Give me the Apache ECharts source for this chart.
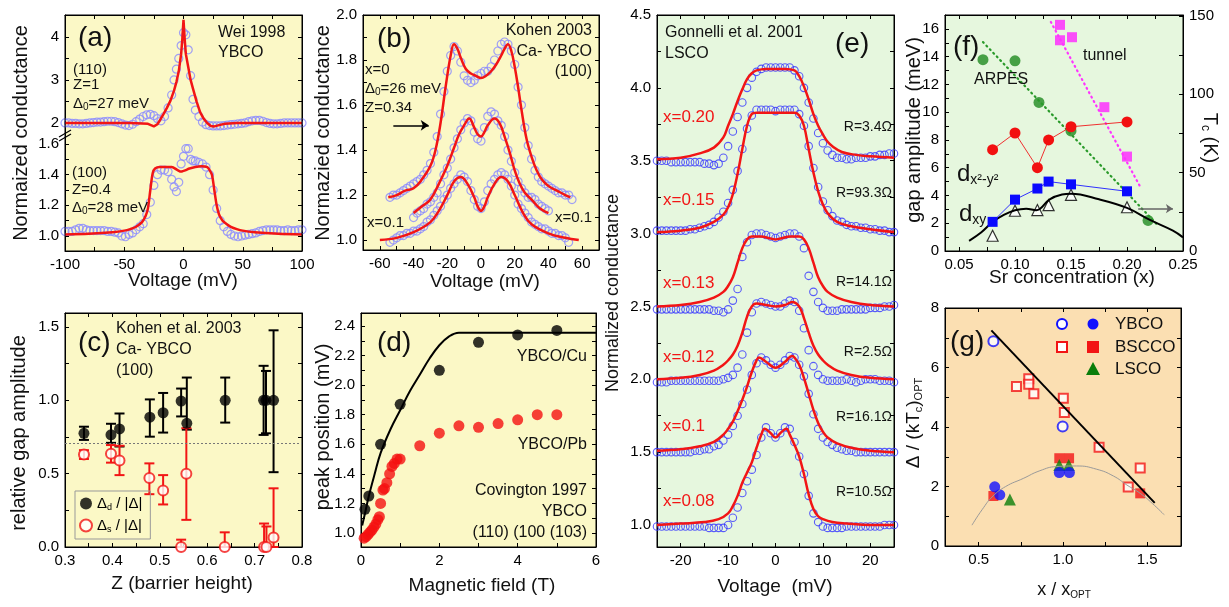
<!DOCTYPE html>
<html>
<head>
<meta charset="utf-8">
<script src="https://cdn.jsdelivr.net/npm/echarts@6.0.0/dist/echarts.min.js"></script>
</head>
<body style="margin:0;background:#fff">
<div id="container" style="width:1229px;height:607px;"></div>
<script type="text/javascript">
// ---------- data ----------
// (a) Wei 1998, YBCO
const aDataX = [-100,-97,-94,-91,-88,-85,-82,-79,-76,-73,-70,-67,-64,-61,-58,-55,-52,-49,-46,-43,-40,-37,-34,-31,-28,-25,-22,-19,-16,-13,-10,-8,-6,-4,-2,0,2,4,6,8,10,13,16,19,22,25,28,31,34,37,40,43,46,49,52,55,58,61,64,67,70,73,76,79,82,85,88,91,94,97,100];
const aUpY = [2.0,2.0,1.99,1.99,1.98,1.98,1.99,2.0,2.01,2.02,2.02,2.03,2.04,2.04,2.03,2.01,1.98,1.95,1.94,1.97,2.03,2.09,2.15,2.19,2.2,2.17,2.1,2.05,2.15,2.35,2.65,
  3.0,3.25,3.5,3.8,4.1,4.05,3.7,3.1,2.55,2.3,
  2.15,2.02,1.96,1.94,1.93,1.93,1.93,1.94,1.95,1.96,1.97,1.98,1.99,2.0,2.03,2.05,2.06,2.06,2.04,2.01,1.99,1.98,1.98,1.99,2.0,2.0,2.0,2.0,2.0,2.0];
const aLoY = [1.03,1.03,1.03,1.04,1.05,1.05,1.04,1.035,1.035,1.035,1.035,1.035,1.03,1.03,1.025,1.02,1.0,0.995,1.01,1.02,1.04,1.06,1.08,1.14,1.22,1.33,1.4,1.43,1.43,1.42,1.37,
  1.32,1.29,1.35,1.47,1.52,1.57,1.57,1.5,1.49,1.49,
  1.48,1.47,1.45,1.4,1.3,1.18,1.1,1.06,1.03,1.01,1.0,0.995,1.0,1.005,1.01,1.015,1.02,1.03,1.035,1.04,1.04,1.04,1.04,1.035,1.035,1.04,1.035,1.035,1.04,1.04];
const aFitUx = [-100,-80,-60,-45,-35,-30,-25,-22,-20,-17,-14,-11,-8,-6,-4,-2,-1,0,1,2,4,6,8,11,14,17,20,23,26,30,35,45,60,80,100];
const aFitUy = [2.0,2.0,2.0,2.0,1.99,1.98,1.92,1.97,2.06,2.2,2.35,2.52,2.75,2.95,3.2,3.6,3.95,4.4,3.95,3.6,3.3,3.0,2.8,2.5,2.25,2.1,2.0,1.93,1.92,1.95,1.98,2.0,2.0,2.0,2.0];
const aFitLx = [-100,-80,-60,-50,-45,-40,-35,-32,-30,-28,-26,-24,-20,-15,-10,-5,-2,0,2,5,10,15,20,22,24,26,28,30,33,36,40,45,50,60,80,100];
const aFitLy = [1.01,1.015,1.025,1.035,1.045,1.06,1.09,1.13,1.18,1.3,1.41,1.44,1.45,1.45,1.45,1.43,1.42,1.425,1.43,1.44,1.45,1.455,1.45,1.43,1.4,1.3,1.2,1.14,1.1,1.08,1.06,1.045,1.035,1.025,1.015,1.01];

// (b) Kohen 2003, Ca-YBCO
const bTopX = [-54,-52,-50,-48,-46,-44,-42,-40,-38,-36,-34,-32,-30,-28,-26,-24,-22,-20,-18,-16,-14,-12,-10,-8,-6,-4,-2,0,2,4,6,8,10,12,14,16,18,20,22,24,26,28,30,32,34,36,38,40,42,44,46,48,50,52,54];
const bTopY = [1.19,1.20,1.20,1.21,1.22,1.23,1.24,1.25,1.26,1.27,1.29,1.31,1.34,1.39,1.46,1.56,1.66,1.75,1.82,1.86,1.84,1.79,1.73,1.71,1.70,1.71,1.73,1.74,1.75,1.75,1.77,1.80,1.84,1.87,1.88,1.87,1.84,1.78,1.68,1.60,1.50,1.42,1.36,1.31,1.28,1.26,1.25,1.24,1.23,1.22,1.21,1.21,1.20,1.20,1.18];
const bMidX = [-40,-38,-36,-34,-32,-30,-28,-26,-24,-22,-20,-18,-16,-14,-12,-10,-8,-6,-4,-2,0,2,4,6,8,10,12,14,16,18,20,22,24,26,28,30,32,34,36,38,40];
const bMidY = [1.10,1.12,1.13,1.14,1.16,1.17,1.19,1.21,1.25,1.29,1.32,1.36,1.41,1.45,1.49,1.52,1.54,1.53,1.48,1.45,1.44,1.50,1.55,1.57,1.56,1.53,1.51,1.46,1.40,1.35,1.30,1.26,1.23,1.21,1.19,1.19,1.18,1.16,1.15,1.14,1.13];
const bBotX = [-54,-52,-50,-48,-46,-44,-42,-40,-38,-36,-34,-32,-30,-28,-26,-24,-22,-20,-18,-16,-14,-12,-10,-8,-6,-4,-2,0,2,4,6,8,10,12,14,16,18,20,22,24,26,28,30,32,34,36,38,40,42,44,46,48,50,52];
const bBotY = [0.99,1.00,1.01,1.02,1.02,1.03,1.03,1.04,1.04,1.05,1.06,1.08,1.09,1.11,1.13,1.15,1.18,1.20,1.23,1.25,1.27,1.29,1.28,1.26,1.22,1.18,1.15,1.14,1.17,1.22,1.25,1.27,1.29,1.30,1.29,1.27,1.24,1.20,1.16,1.14,1.12,1.10,1.08,1.07,1.06,1.05,1.05,1.04,1.03,1.03,1.02,1.02,1.01,0.99];
const bTopFitX = [-55,-50,-45,-40,-35,-30,-27,-24,-21,-18,-16,-14,-12,-9,-6,-3,0,3,6,9,12,14,16,18,20,22,24,27,30,33,36,40,45,50,53];
const bTopFit = [1.19,1.20,1.22,1.23,1.27,1.33,1.40,1.52,1.68,1.82,1.87,1.85,1.81,1.76,1.74,1.73,1.72,1.73,1.75,1.78,1.82,1.85,1.87,1.84,1.77,1.68,1.58,1.45,1.37,1.31,1.27,1.24,1.22,1.20,1.19];
const bMidFitX = [-40,-35,-30,-25,-20,-16,-13,-10,-7,-4,-2,0,2,4,8,11,14,17,20,23,26,30,35,40];
const bMidFit = [1.12,1.15,1.18,1.25,1.33,1.41,1.47,1.51,1.54,1.50,1.47,1.46,1.48,1.51,1.54,1.52,1.46,1.39,1.31,1.25,1.21,1.18,1.14,1.12];
const bBotFitX = [-60,-50,-40,-30,-25,-20,-16,-12,-8,-4,-2,0,2,4,8,12,16,20,25,30,40,50,58];
const bBotFit = [1.00,1.01,1.035,1.08,1.13,1.20,1.26,1.28,1.25,1.19,1.15,1.13,1.15,1.19,1.25,1.28,1.26,1.20,1.12,1.07,1.03,1.01,1.00];

// (c) Kohen et al. 2003, relative gap amplitude vs Z
const cZd = [0.34,0.397,0.415,0.479,0.507,0.545,0.557,0.638,0.719,0.724,0.74];
const cD = [0.775,0.765,0.805,0.885,0.915,0.995,0.843,1.0,1.0,1.0,1.0];
const cDlo = [0.73,0.71,0.685,0.752,0.78,0.89,0.8,0.848,0.764,0.775,0.51];
const cDhi = [0.82,0.84,0.91,1.006,1.05,1.08,1.155,1.155,1.235,1.2,1.477];
const cZs = [0.34,0.397,0.415,0.478,0.507,0.545,0.556,0.637,0.72,0.725,0.74];
const cS = [0.63,0.635,0.59,0.47,0.385,0.0,0.5,0.0,0.0,0.0,0.065];
const cSlo = [0.6,0.575,0.49,0.36,0.29,0.0,0.185,0.0,0.0,0.0,0.0];
const cShi = [0.66,0.695,0.69,0.57,0.49,0.05,0.81,0.1,0.16,0.14,0.4];

// (d) Covington 1997, peak position vs field
const dCuB = [0.1,0.2,0.5,1,2,3,4,5];
const dCu = [1.16,1.25,1.6,1.87,2.1,2.29,2.34,2.37];
const dFitB = [0.03,0.1,0.2,0.35,0.5,0.75,1.0,1.25,1.5,1.75,2.0,2.25,2.5,3,4,5,6];
const dFit = [1.05,1.13,1.25,1.4,1.54,1.7,1.83,1.96,2.07,2.18,2.27,2.33,2.355,2.355,2.355,2.355,2.355];
const dPbB = [0.08,0.13,0.18,0.23,0.28,0.33,0.38,0.43,0.47,0.5,0.56,0.6,0.66,0.73,0.79,0.85,0.92,1.0,1.5,2.0,2.5,3.0,3.5,4.0,4.5,5.0];
const dPb = [0.965,0.975,0.99,1.005,1.02,1.04,1.06,1.09,1.11,1.2,1.29,1.3,1.34,1.4,1.45,1.47,1.5,1.5,1.59,1.675,1.725,1.715,1.74,1.765,1.8,1.8];

// (e) Gonnelli et al. 2001, LSCO
const eX = [-25,-24,-23,-22,-21,-20,-19,-18,-17,-16,-15,-14,-13,-12,-11,-10,-9,-8,-7,-6,-5,-4,-3,-2,-1,0,1,2,3,4,5,6,7,8,9,10,11,12,13,14,15,16,17,18,19,20,21,22,23,24,25];
const e020 = [3.50,3.50,3.50,3.49,3.49,3.49,3.49,3.49,3.49,3.49,3.48,3.48,3.47,3.48,3.52,3.60,3.70,3.80,3.90,4.00,4.07,4.11,4.13,4.14,4.14,4.14,4.14,4.14,4.14,4.12,4.08,4.00,3.90,3.79,3.69,3.62,3.57,3.54,3.52,3.52,3.51,3.51,3.52,3.52,3.52,3.53,3.53,3.54,3.54,3.55,3.55];
const e015 = [3.02,3.02,3.02,3.02,3.02,3.02,3.02,3.03,3.03,3.04,3.05,3.06,3.08,3.11,3.15,3.21,3.30,3.43,3.58,3.72,3.81,3.85,3.85,3.85,3.85,3.84,3.85,3.85,3.85,3.85,3.82,3.74,3.60,3.45,3.32,3.22,3.16,3.12,3.09,3.08,3.06,3.05,3.05,3.04,3.04,3.03,3.03,3.02,3.02,3.01,3.01];
const e013 = [2.48,2.48,2.48,2.48,2.48,2.48,2.48,2.48,2.48,2.48,2.48,2.48,2.47,2.47,2.46,2.48,2.54,2.62,2.84,2.94,2.99,3.00,3.00,2.99,2.98,2.97,2.98,2.99,3.00,3.00,2.98,2.90,2.71,2.60,2.53,2.49,2.47,2.47,2.47,2.48,2.48,2.48,2.48,2.48,2.48,2.49,2.49,2.49,2.50,2.50,2.51];
const e012 = [1.98,1.98,1.98,1.99,1.99,1.99,1.99,1.99,1.99,1.99,1.99,1.99,1.99,1.99,2.00,2.01,2.03,2.08,2.17,2.32,2.46,2.52,2.53,2.52,2.51,2.50,2.50,2.52,2.54,2.53,2.47,2.35,2.20,2.09,2.03,2.00,1.99,1.99,1.99,1.99,2.00,1.99,1.98,1.99,2.00,2.00,2.00,1.99,1.99,1.99,1.98];
const e010 = [1.50,1.50,1.50,1.50,1.50,1.50,1.50,1.50,1.51,1.51,1.52,1.52,1.54,1.55,1.58,1.62,1.68,1.75,1.83,1.93,2.03,2.11,2.15,2.13,2.10,2.08,2.10,2.13,2.16,2.15,2.10,2.02,1.90,1.76,1.66,1.60,1.57,1.55,1.53,1.52,1.51,1.51,1.50,1.50,1.50,1.50,1.50,1.50,1.50,1.50,1.50];
const e008 = [0.99,0.99,0.99,0.99,0.99,0.99,0.99,0.99,0.99,0.99,0.99,0.98,0.98,0.98,0.98,1.00,1.05,1.12,1.22,1.30,1.38,1.48,1.60,1.67,1.63,1.60,1.63,1.67,1.66,1.57,1.47,1.35,1.20,1.08,1.02,0.99,0.98,0.98,0.98,0.98,0.99,0.99,0.99,0.99,0.99,0.99,0.99,0.99,1.00,1.00,1.00];
const f020x = [-25,-20,-16,-13,-11,-10,-9,-8,-7,-6,-5,-4,-2,0,2,4,5,6,7,8,9,10,11,12,14,17,20,25];
const f020 = [3.51,3.52,3.55,3.59,3.66,3.74,3.82,3.91,3.99,4.06,4.10,4.12,4.13,4.13,4.13,4.12,4.08,4.01,3.92,3.82,3.74,3.68,3.63,3.60,3.56,3.54,3.53,3.52];
const f015x = [-25,-20,-16,-13,-11,-10,-9,-8,-7,-6,-5,-4,-2,0,2,4,5,6,7,8,9,10,11,13,16,20,25];
const f015 = [3.01,3.02,3.04,3.08,3.13,3.18,3.27,3.41,3.58,3.74,3.82,3.83,3.83,3.83,3.83,3.83,3.81,3.74,3.58,3.42,3.29,3.20,3.14,3.08,3.05,3.03,3.01];
const f013x = [-25,-20,-16,-13,-11,-10,-9,-8,-7,-6,-5,-3,-1.5,0,1.5,3,5,6,7,8,9,10,11,13,16,20,25];
const f013 = [2.50,2.51,2.53,2.56,2.60,2.64,2.70,2.80,2.90,2.96,2.98,2.98,2.97,2.96,2.97,2.98,2.98,2.96,2.90,2.80,2.70,2.64,2.60,2.56,2.53,2.51,2.50];
const f012x = [-25,-20,-16,-13,-11,-10,-9,-8,-7,-6,-5,-4,-2,0,2,3.5,5,6,7,8,9,10,11,13,16,20,25];
const f012 = [2.00,2.01,2.03,2.06,2.10,2.13,2.17,2.23,2.32,2.43,2.50,2.52,2.51,2.50,2.51,2.53,2.50,2.42,2.32,2.23,2.17,2.13,2.10,2.06,2.03,2.01,2.00];
const f010x = [-25,-20,-16,-13,-11,-10,-9,-8,-7,-6,-5,-4,-3.5,-2,0,2,3.5,4,5,6,7,8,9,10,11,13,16,20,25];
const f010 = [1.51,1.52,1.54,1.57,1.62,1.66,1.71,1.78,1.86,1.95,2.05,2.13,2.15,2.12,2.08,2.12,2.16,2.15,2.10,2.01,1.90,1.79,1.70,1.64,1.60,1.56,1.53,1.51,1.50];
const f008x = [-25,-20,-15,-12,-10,-9,-8,-7,-6,-5,-4,-3,-2.3,-1,0,1,2.3,3,4,5,6,7,8,9,10,12,15,20,25];
const f008 = [1.00,1.01,1.02,1.04,1.08,1.13,1.20,1.29,1.36,1.43,1.53,1.62,1.66,1.63,1.60,1.63,1.66,1.62,1.55,1.47,1.35,1.21,1.11,1.06,1.04,1.02,1.01,1.00,1.00];
const eLabels = ['x=0.20','x=0.15','x=0.13','x=0.12','x=0.1','x=0.08'];
const eR = ['R=3.4Ω','R=93.3Ω','R=14.1Ω','R=2.5Ω','R=16.1Ω','R=10.5Ω'];

// (f) gap amplitude vs Sr concentration
const fX = [0.08,0.10,0.12,0.13,0.15,0.20];
const fRed = [7.3,8.5,6.0,8.0,8.95,9.3];
const fBlue = [2.1,3.7,4.5,5.0,4.8,4.3];
const fTri = [1.1,2.9,2.95,3.3,4.05,3.15];
const fArpesX = [0.0714,0.1,0.1214,0.15,0.2188];
const fArpes = [13.78,13.7,10.7,8.65,2.2];
const fArpesFitX = [0.0714,0.227];
const fArpesFit = [15.05,1.9];
const fTunX = [0.1402,0.1402,0.1509,0.1798,0.2];
const fTun = [16.29,15.18,15.4,10.36,6.8];
const fTunFitX = [0.132,0.212];
const fTunFit = [16.5,4.6];
const fTcX = [0.059,0.07,0.08,0.09,0.1,0.11,0.119,0.131,0.142,0.15,0.175,0.2,0.22,0.241,0.25];
const fTc = [6.5,12,18.5,23,26,27,26,33,36,36.5,33,27.5,20,13,8.7];

// (g) Δ/(kTc)opt vs x/xopt
const gYoX = [0.587,0.998];            const gYo = [6.88,4.02];
const gYfX = [0.595,0.625,0.978,1.038]; const gYf = [1.99,1.72,2.47,2.47];
const gBoX = [0.724,0.797,0.797,0.827,1.002,1.008,1.214,1.387,1.458];
const gBo = [5.36,5.62,5.44,5.12,4.97,4.49,3.32,1.98,2.62];
const gBfX = [0.587,0.978,1.036,1.458]; const gBf = [1.68,2.95,2.95,1.77];
const gLfX = [0.685,0.978,1.034];       const gLf = [1.56,2.72,2.72];
const gLineX = [0.575,1.544];           const gLine = [7.25,1.45];
const gParX = [0.46,0.52,0.585,0.66,0.764,0.863,0.962,1.08,1.2,1.3,1.379,1.458,1.53,1.6];
const gPar = [0.7,1.22,1.68,2.0,2.27,2.53,2.67,2.69,2.58,2.35,2.05,1.77,1.43,1.05];

// tick values (labels, minor)
const tA_x = [-100,-50,0,50,100], tA_xm = [-75,-25,25,75];
const tA_yu = [2,3,4], tA_yum = [2.5,3.5];
const tA_yl = [1.0,1.2,1.4,1.6], tA_ylm = [1.1,1.3,1.5];
const tB_x = [-60,-40,-20,0,20,40,60], tB_xm = [-50,-30,-10,10,30,50];
const tB_y = [1.0,1.2,1.4,1.6,1.8,2.0], tB_ym = [1.1,1.3,1.5,1.7,1.9];
const tC_x = [0.3,0.4,0.5,0.6,0.7,0.8], tC_xm = [0.35,0.45,0.55,0.65,0.75];
const tC_y = [0,0.5,1.0,1.5], tC_ym = [0.25,0.75,1.25];
const tD_x = [0,2,4,6], tD_xm = [1,3,5];
const tD_y = [1.0,1.2,1.4,1.6,1.8,2.0,2.2,2.4], tD_ym = [1.1,1.3,1.5,1.7,1.9,2.1,2.3];
const tE_x = [-20,-10,0,10,20], tE_xm = [-15,-5,5,15];
const tE_y = [1.0,1.5,2.0,2.5,3.0,3.5,4.0,4.5], tE_ym = [1.25,1.75,2.25,2.75,3.25,3.75,4.25];
const tF_x = [0.05,0.10,0.15,0.20,0.25], tF_xm = [0.075,0.125,0.175,0.225];
const tF_y = [0,2,4,6,8,10,12,14,16], tF_ym = [1,3,5,7,9,11,13,15];
const tF_r = [0,50,100,150], tF_rm = [25,75,125];
const tG_x = [0.5,1.0,1.5], tG_xm = [0.75,1.25];
const tG_y = [0,2,4,6,8], tG_ym = [1,3,5,7];

// ---------- chart ----------
const FONT = '"Liberation Sans", Arial, sans-serif';
const YEL = '#FBF8C6', GRN = '#E6F7DE', ORG = '#FBDFB2';
const RED = '#F21515', BLUE_C = '#8a8aff', BLUE_E = '#3535ff';

const dom = document.getElementById('container');
const myChart = echarts.init(dom);

function zip(xs, ys) { return xs.map((x, i) => [x, ys[i]]); }

function grid(left, top, width, height, bg, border) {
    return {left: left, top: top, width: width, height: height, show: true, backgroundColor: bg,
        borderColor: '#000', borderWidth: border === false ? 0 : 1, containLabel: false, outerBoundsMode: 'none'};
}

function axis(gi, min, max, labels, minor, digits, extra) {
    const a = {
        type: 'value', gridIndex: gi, min: min, max: max, scale: false,
        axisLine: {show: true, onZero: false, lineStyle: {color: '#000', width: 1}},
        axisTick: {show: true, inside: true, length: 4, customValues: labels.concat(minor), lineStyle: {color: '#000'}},
        axisLabel: {show: true, customValues: labels, color: '#000', fontSize: 15, fontFamily: FONT, margin: 6,
            formatter: function (v) { return Number(v).toFixed(digits); }},
        splitLine: {show: false}
    };
    return Object.assign(a, extra || {});
}
// tick-only axis on the opposite edge of a frame
function mirror(gi, min, max, labels, minor, pos) {
    return {
        type: 'value', gridIndex: gi, min: min, max: max, position: pos,
        axisLine: {show: true, onZero: false, lineStyle: {color: '#000', width: 1}},
        axisTick: {show: true, inside: true, length: 4, customValues: labels.concat(minor), lineStyle: {color: '#000'}},
        axisLabel: {show: false}, splitLine: {show: false}
    };
}

function hidden(gi, min, max) {
    return {type: 'value', gridIndex: gi, min: min, max: max, show: false, splitLine: {show: false}};
}

function sc(xi, yi, xs, ys, size, item, sym) {
    return {type: 'scatter', xAxisIndex: xi, yAxisIndex: yi, data: zip(xs, ys), symbol: sym || 'circle',
        symbolSize: size, itemStyle: item, silent: true};
}
function ln(xi, yi, xs, ys, color, width, smooth, extra) {
    return Object.assign({type: 'line', xAxisIndex: xi, yAxisIndex: yi, data: zip(xs, ys), showSymbol: false,
        symbol: 'none', smooth: smooth, lineStyle: {color: color, width: width}, itemStyle: {color: color}, silent: true}, extra || {});
}
const openBlueA = {color: 'rgba(255,255,255,0)', borderColor: BLUE_C, borderWidth: 1.2};
const openBlueE = {color: 'rgba(255,255,255,0)', borderColor: BLUE_E, borderWidth: 1.1};

function errRender(params, api) {
    const x = api.value(0);
    const top = api.coord([x, api.value(3)]);
    const bot = api.coord([x, api.value(2)]);
    const c = api.visual('color');
    const w = 5;
    const st = {stroke: c, lineWidth: 2};
    return {type: 'group', children: [
        {type: 'line', shape: {x1: top[0], y1: top[1], x2: bot[0], y2: bot[1]}, style: st},
        {type: 'line', shape: {x1: top[0] - w, y1: top[1], x2: top[0] + w, y2: top[1]}, style: st},
        {type: 'line', shape: {x1: bot[0] - w, y1: bot[1], x2: bot[0] + w, y2: bot[1]}, style: st}
    ]};
}
function errSeries(xi, yi, xs, ys, lo, hi, color) {
    return {type: 'custom', xAxisIndex: xi, yAxisIndex: yi, renderItem: errRender, silent: true,
        itemStyle: {color: color}, encode: {x: 0, y: [1, 2, 3]},
        data: xs.map((x, i) => [x, ys[i], lo[i], hi[i]])};
}

// text annotations
const texts = [];
function rich(main, sub, color) {
    return {
        m: {fontSize: main, fontFamily: FONT, fill: color, color: color, lineHeight: main + 2},
        s: {fontSize: sub, fontFamily: FONT, fill: color, color: color, lineHeight: sub, verticalAlign: 'bottom'}
    };
}
function T(x, y, s, size, o) {
    o = o || {};
    const color = o.color || '#111';
    texts.push({
        type: 'text', x: x, y: y, rotation: o.rot || 0, z: 50, silent: true,
        style: {text: s, fill: color, font: size + 'px ' + FONT, align: o.align || 'left',
            verticalAlign: 'middle', rich: o.rich}
    });
}
const R90 = Math.PI / 2;

// panel letters
T(78, 38, '(a)', 28); T(377, 39, '(b)', 28); T(78, 343, '(c)', 28); T(377, 343, '(d)', 28);
T(835, 44, '(e)', 28); T(953, 47, '(f)', 28); T(950, 342, '(g)', 28);
// (a)
T(218, 33, 'Wei 1998', 16); T(218, 53, 'YBCO', 16);
T(73, 70, '(110)', 15); T(73, 85, 'Z=1', 15);
T(73, 104, '{m|Δ}{s|0}{m|=27 meV}', 15, {rich: rich(15, 10, '#111')});
T(72, 173, '(100)', 15); T(72, 190, 'Z=0.4', 15);
T(72, 208, '{m|Δ}{s|0}{m|=28 meV}', 15, {rich: rich(15, 10, '#111')});
// (b)
T(592, 31, 'Kohen 2003', 16, {align: 'right'}); T(592, 52, 'Ca- YBCO', 16, {align: 'right'});
T(592, 72, '(100)', 16, {align: 'right'});
T(365, 70, 'x=0', 15); T(365, 89, '{m|Δ}{s|0}{m|=26 meV}', 15, {rich: rich(15, 10, '#111')});
T(365, 108, 'Z=0.34', 15);
T(555, 218, 'x=0.1', 15); T(367, 223, 'x=0.1', 15);
// (c)
T(116, 329, 'Kohen et al. 2003', 16); T(116, 350, 'Ca- YBCO', 16); T(116, 371, '(100)', 16);
// (d)
T(587, 357, 'YBCO/Cu', 16, {align: 'right'}); T(587, 445, 'YBCO/Pb', 16, {align: 'right'});
T(587, 491, 'Covington 1997', 16, {align: 'right'}); T(587, 512, 'YBCO', 16, {align: 'right'});
T(587, 533, '(110) (100 (103)', 16, {align: 'right'});
// (e)
T(665, 33, 'Gonnelli et al. 2001', 16); T(665, 54, 'LSCO', 16);
const eLabY = [117, 200, 283, 357, 426, 501];
const eRY = [127, 193, 282, 352, 417, 492];
eLabels.forEach((s, i) => T(663, eLabY[i], s, 17, {color: RED}));
eR.forEach((s, i) => T(892, eRY[i], s, 14, {align: 'right'}));
// (f)
T(1083, 56, 'tunnel', 16); T(974, 80, 'ARPES', 16);
T(957, 174, '{m|d}{s|x²-y²}', 24, {rich: rich(24, 14, '#111')});
T(959, 214, '{m|d}{s|xy}', 24, {rich: rich(24, 14, '#111')});
// (g) legend texts
T(1115, 324, 'YBCO', 17); T(1115, 347, 'BSCCO', 17); T(1115, 369, 'LSCO', 17);
// axis titles
T(183, 281, 'Voltage (mV)', 19, {align: 'center'});
T(485, 282, 'Voltage (mV)', 19, {align: 'center'});
T(182, 584, 'Z (barrier height)', 19, {align: 'center'});
T(482, 586, 'Magnetic field (T)', 19, {align: 'center'});
T(775, 587, 'Voltage  (mV)', 19, {align: 'center'});
T(1072, 278, 'Sr concentration (x)', 19, {align: 'center'});
T(1064, 590, '{m|x / x}{s|OPT}', 18, {align: 'center', rich: rich(18, 10, '#111')});
T(21, 133, 'Normaized conductance', 20, {align: 'center', rot: R90});
T(323, 133, 'Normazied conductance', 20, {align: 'center', rot: R90});
T(19, 433, 'relative gap amplitude', 20, {align: 'center', rot: R90});
T(323, 427, 'peak position (mV)', 20, {align: 'center', rot: R90});
T(613, 293, 'Normalized conductance', 18, {align: 'center', rot: R90});
T(914, 130, 'gap amplitude (meV)', 20, {align: 'center', rot: R90});
T(1210, 138, '{m|T}{s|c}{m| (K)}', 20, {align: 'center', rot: -R90, rich: rich(20, 12, '#111')});
T(914, 423, '{m|Δ / (kT}{s|c}{m|)}{s|OPT}', 19, {align: 'center', rot: R90, rich: rich(19, 11, '#111')});

// frame of broken panel (a) and the break marks
const shapes = [
    {type: 'rect', shape: {x: 65, y: 15, width: 237, height: 236}, style: {fill: 'none', stroke: '#000', lineWidth: 1}, z: 40},
    {type: 'line', shape: {x1: 59, y1: 137, x2: 71, y2: 130}, style: {stroke: '#000', lineWidth: 1.2}, z: 41},
    {type: 'line', shape: {x1: 59, y1: 141, x2: 71, y2: 134}, style: {stroke: '#000', lineWidth: 1.2}, z: 41},
    // (g) legend icons
    {type: 'circle', shape: {cx: 1062, cy: 324, r: 5}, style: {fill: '#fff', stroke: '#1010ff', lineWidth: 2}, z: 45},
    {type: 'circle', shape: {cx: 1093, cy: 324, r: 5.5}, style: {fill: '#1010ff'}, z: 45},
    {type: 'rect', shape: {x: 1057, y: 342, width: 10, height: 10}, style: {fill: '#fff', stroke: RED, lineWidth: 2}, z: 45},
    {type: 'rect', shape: {x: 1087, y: 341, width: 12, height: 12}, style: {fill: RED}, z: 45},
    {type: 'polygon', shape: {points: [[1093, 362], [1100, 375], [1086, 375]]}, style: {fill: '#0a7d0a'}, z: 45}
];

const option = {
    animation: false,
    backgroundColor: '#fff',
    textStyle: {fontFamily: FONT},
    grid: [
        grid(65, 15, 237, 120, YEL, false),   // 0 a upper
        grid(65, 135, 237, 116, YEL, false),  // 1 a lower
        grid(363, 15, 236, 235, YEL),         // 2 b
        grid(65, 313, 237, 234, YEL),         // 3 c
        grid(361, 313, 235, 234, YEL),        // 4 d
        grid(657, 15, 237, 532, GRN),         // 5 e
        grid(945, 15, 238, 236, GRN),         // 6 f
        grid(945, 308, 236, 238, ORG)         // 7 g
    ],
    xAxis: [
        hidden(0, -100, 100),
        axis(1, -100, 100, tA_x, tA_xm, 0),
        axis(2, -70, 70, tB_x, tB_xm, 0),
        axis(3, 0.3, 0.8, tC_x, tC_xm, 1),
        axis(4, 0, 6, tD_x, tD_xm, 0),
        axis(5, -25, 25, tE_x, tE_xm, 0),
        axis(6, 0.0375, 0.25, tF_x, tF_xm, 2),
        axis(7, 0.3, 1.7, tG_x, tG_xm, 1),
        // top edges
        mirror(0, -100, 100, tA_x, tA_xm, 'top'),
        mirror(2, -70, 70, tB_x, tB_xm, 'top'),
        mirror(3, 0.3, 0.8, tC_x, tC_xm, 'top'),
        mirror(4, 0, 6, tD_x, tD_xm, 'top'),
        mirror(5, -25, 25, tE_x, tE_xm, 'top'),
        mirror(6, 0.0375, 0.25, tF_x, tF_xm, 'top'),
        mirror(7, 0.3, 1.7, tG_x, tG_xm, 'top')
    ],
    yAxis: [
        axis(0, 1.72, 4.51, tA_yu, tA_yum, 0),
        axis(1, 0.902, 1.659, tA_yl, tA_ylm, 1),
        axis(2, 0.956, 2.0, tB_y, tB_ym, 1),
        axis(3, 0, 1.595, tC_y, tC_ym, 1),
        axis(4, 0.905, 2.488, tD_y, tD_ym, 1),
        axis(5, 0.849, 4.5, tE_y, tE_ym, 1),
        axis(6, 0, 17, tF_y, tF_ym, 0),
        axis(7, 0, 8, tG_y, tG_ym, 0),
        axis(6, 0, 150.6, tF_r, tF_rm, 0, {position: 'right'}),
        // right edges
        mirror(0, 1.72, 4.51, tA_yu, tA_yum, 'right'),
        mirror(1, 0.902, 1.659, tA_yl, tA_ylm, 'right'),
        mirror(2, 0.956, 2.0, tB_y, tB_ym, 'right'),
        mirror(3, 0, 1.595, tC_y, tC_ym, 'right'),
        mirror(4, 0.905, 2.488, tD_y, tD_ym, 'right'),
        mirror(5, 0.849, 4.5, tE_y, tE_ym, 'right'),
        mirror(7, 0, 8, tG_y, tG_ym, 'right')
    ],
    legend: [{
        data: ['dd', 'ds'], left: 75, top: 491, orient: 'vertical', itemWidth: 12, itemHeight: 12, itemGap: 6,
        padding: [5, 8, 5, 4], borderColor: '#999', borderWidth: 1, selectedMode: false,
        formatter: function (n) { return n === 'dd' ? '{m|Δ}{s|d}{m| / |Δ|}' : '{m|Δ}{s|s}{m| / |Δ|}'; },
        textStyle: {color: '#000', rich: rich(15, 9, '#000')}
    }],
    series: [
        // (a)
        sc(0, 0, aDataX, aUpY, 8, openBlueA),
        ln(0, 0, aFitUx, aFitUy, RED, 2.5, false),
        sc(1, 1, aDataX, aLoY, 8, openBlueA),
        ln(1, 1, aFitLx, aFitLy, RED, 2.5, 0.3),
        // (b)
        sc(2, 2, bTopX, bTopY, 8, openBlueA),
        sc(2, 2, bMidX, bMidY, 8, openBlueA),
        sc(2, 2, bBotX, bBotY, 8, openBlueA),
        ln(2, 2, bTopFitX, bTopFit, RED, 2.5, 0.4, {
            markLine: {silent: true, symbol: ['none', 'arrow'], symbolSize: 8, label: {show: false},
                lineStyle: {color: '#000', width: 1.5, type: 'solid'},
                data: [[{coord: [-52, 1.51]}, {coord: [-31, 1.51]}]]}
        }),
        ln(2, 2, bMidFitX, bMidFit, RED, 2.5, 0.4),
        ln(2, 2, bBotFitX, bBotFit, RED, 2.5, 0.4),
        // (c)
        errSeries(3, 3, cZd, cD, cDlo, cDhi, '#000'),
        errSeries(3, 3, cZs, cS, cSlo, cShi, RED),
        Object.assign(sc(3, 3, cZd, cD, 11, {color: '#000'}), {name: 'dd',
            markLine: {silent: true, symbol: 'none', label: {show: false},
                lineStyle: {color: '#777', width: 1, type: [2, 2]}, data: [{yAxis: 0.707}]}}),
        Object.assign(sc(3, 3, cZs, cS, 10, {color: '#fff', borderColor: RED, borderWidth: 2}), {name: 'ds'}),
        // (d)
        ln(4, 4, dFitB, dFit, '#000', 2, 0.4),
        sc(4, 4, dCuB, dCu, 11, {color: '#000'}),
        sc(4, 4, dPbB, dPb, 11, {color: '#f51010'}),
        // (e)
        sc(5, 5, eX, e020, 7.5, openBlueE), ln(5, 5, f020x, f020, RED, 2.5, 0.4),
        sc(5, 5, eX, e015, 7.5, openBlueE), ln(5, 5, f015x, f015, RED, 2.5, 0.4),
        sc(5, 5, eX, e013, 7.5, openBlueE), ln(5, 5, f013x, f013, RED, 2.5, 0.4),
        sc(5, 5, eX, e012, 7.5, openBlueE), ln(5, 5, f012x, f012, RED, 2.5, 0.4),
        sc(5, 5, eX, e010, 7.5, openBlueE), ln(5, 5, f010x, f010, RED, 2.5, 0.4),
        sc(5, 5, eX, e008, 7.5, openBlueE), ln(5, 5, f008x, f008, RED, 2.5, 0.4),
        // (f)
        ln(6, 6, fArpesFitX, fArpesFit, '#2a9a2a', 2.2, false, {lineStyle: {color: '#2a9a2a', width: 2.2, type: [1, 4], cap: 'round'}}),
        ln(6, 6, fTunFitX, fTunFit, '#ff33ff', 2.2, false, {lineStyle: {color: '#ff33ff', width: 2.2, type: [1, 4], cap: 'round'}}),
        ln(6, 8, fTcX, fTc, '#000', 2, 0.4, {
            markLine: {silent: true, symbol: ['none', 'arrow'], symbolSize: 7, label: {show: false},
                lineStyle: {color: '#666', width: 1.5, type: 'solid'},
                data: [[{coord: [0.21, 27]}, {coord: [0.241, 27]}]]}
        }),
        ln(6, 6, fX, fRed, '#f03030', 1, false, {showSymbol: true, symbol: 'circle', symbolSize: 11, itemStyle: {color: '#f21010'}}),
        ln(6, 6, fX, fBlue, '#3030ff', 1, false, {showSymbol: true, symbol: 'rect', symbolSize: 10, itemStyle: {color: '#0a0aff'}}),
        sc(6, 6, fX, fTri, 11, {color: '#fff', borderColor: '#000', borderWidth: 1.2}, 'triangle'),
        sc(6, 6, fArpesX, fArpes, 11, {color: '#1f8a1f'}),
        sc(6, 6, fTunX, fTun, 10, {color: '#ff22ff'}, 'rect'),
        // (g)
        ln(7, 7, gParX, gPar, '#9a9a9a', 1, 0.5),
        ln(7, 7, gLineX, gLine, '#000', 2, false),
        sc(7, 7, gYoX, gYo, 10, {color: '#fff', borderColor: '#1010ff', borderWidth: 2}),
        sc(7, 7, gBoX, gBo, 9, {color: '#fff', borderColor: RED, borderWidth: 2}, 'rect'),
        sc(7, 7, gBfX, gBf, 10, {color: RED}, 'rect'),
        sc(7, 7, gLfX, gLf, 12, {color: '#0a7d0a'}, 'triangle'),
        sc(7, 7, gYfX, gYf, 11, {color: '#1010ff'})
    ],
    graphic: {elements: shapes.concat(texts)}
};
myChart.setOption(option, true);
window.onresize = function () { myChart.resize(); };
</script>
</body>
</html>
